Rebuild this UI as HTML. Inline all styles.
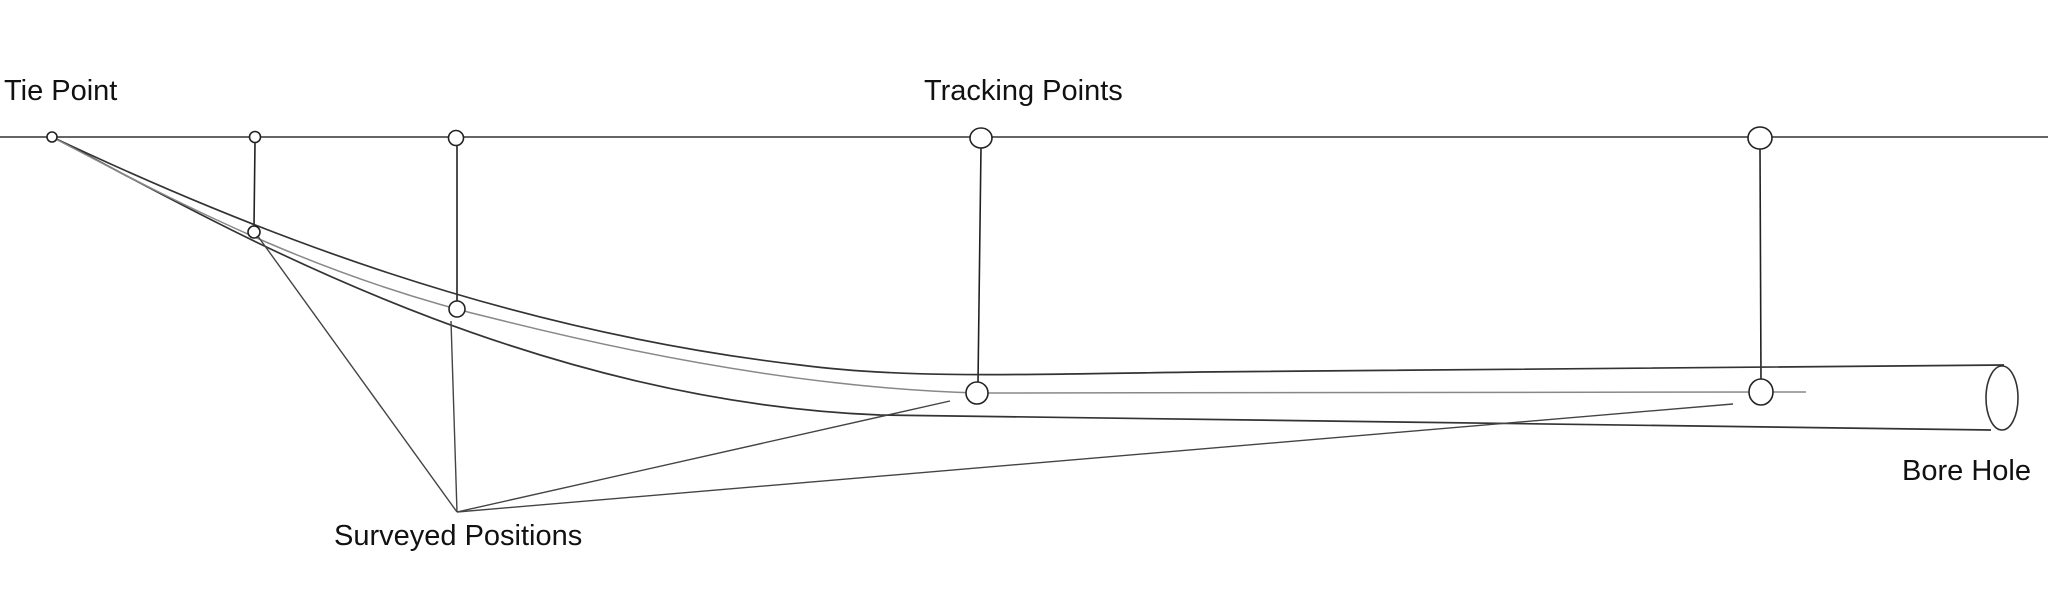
<!DOCTYPE html>
<html><head><meta charset="utf-8"><style>
html,body{margin:0;padding:0;background:#fff;}
svg{display:block;}
text{font-family:"Liberation Sans",sans-serif;font-size:29px;fill:#111;}
</style></head><body>
<svg width="2048" height="603" viewBox="0 0 2048 603" xmlns="http://www.w3.org/2000/svg">
<rect width="2048" height="603" fill="#fff"/>
<text x="4" y="100">Tie Point</text>
<text x="924" y="100">Tracking Points</text>
<text x="334" y="545">Surveyed Positions</text>
<text x="1902" y="480">Bore Hole</text>
<line x1="0" y1="137" x2="2048" y2="137" stroke="#333" stroke-width="1.5"/>
<g stroke="#222" stroke-width="1.6">
<line x1="255" y1="142" x2="254" y2="226"/>
<line x1="457" y1="144" x2="457" y2="301"/>
<line x1="981" y1="147" x2="978" y2="383"/>
<line x1="1760" y1="147" x2="1761" y2="382"/>
</g>
<path d="M52,137 C250,230 500,330 800,365 C900,378 1000,375 1200,372 L2004,365" fill="none" stroke="#333" stroke-width="1.7"/>
<path d="M52,137 C180,200 500,400 880,415 L1991,430" fill="none" stroke="#333" stroke-width="1.7"/>
<path d="M52,137 C200,215 330,280 500,320 C620,350 800,388 977,393 L1806,392" fill="none" stroke="#888" stroke-width="1.5"/>
<ellipse cx="2002" cy="398" rx="16" ry="32" fill="#fff" stroke="#333" stroke-width="1.6"/>
<g stroke="#444" stroke-width="1.4" fill="none">
<line x1="457" y1="512" x2="257" y2="235"/>
<line x1="457" y1="512" x2="451" y2="321"/>
<line x1="457" y1="512" x2="950" y2="401"/>
<line x1="457" y1="512" x2="1733" y2="404"/>
</g>
<g fill="#fff" stroke="#222" stroke-width="1.6">
<circle cx="52" cy="137" r="5"/>
<circle cx="255" cy="137" r="5.5"/>
<circle cx="456" cy="138" r="7.5"/>
<ellipse cx="981" cy="138" rx="11" ry="10"/>
<ellipse cx="1760" cy="138" rx="12" ry="11"/>
<circle cx="254" cy="232" r="6"/>
<circle cx="457" cy="309" r="8"/>
<ellipse cx="977" cy="393" rx="11" ry="11"/>
<ellipse cx="1761" cy="392" rx="12" ry="13"/>
</g>
</svg>
</body></html>
